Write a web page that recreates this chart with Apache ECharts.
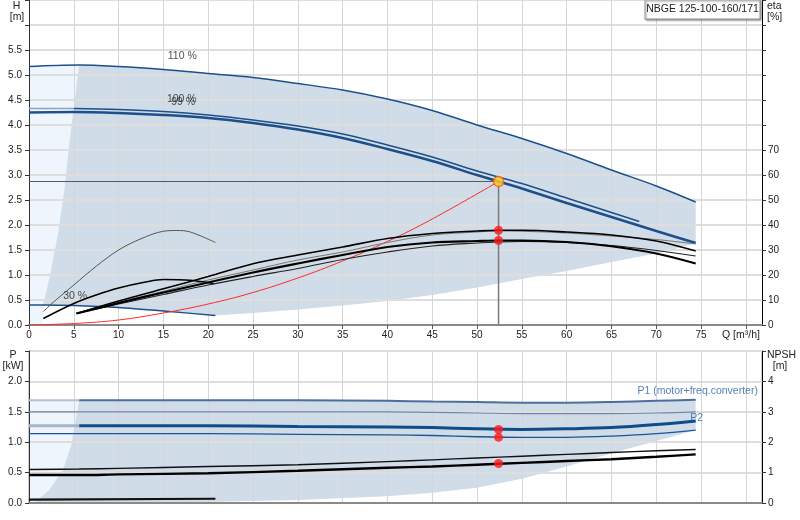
<!DOCTYPE html>
<html><head><meta charset="utf-8">
<script src="https://cdn.jsdelivr.net/npm/echarts@6/dist/echarts.min.js"></script>
<style>html,body{margin:0;padding:0;background:#fff}#c{width:800px;height:520px}</style>
</head><body><div id="c"></div><script>
// ---------- DATA ----------
const title = 'NBGE 125-100-160/171';
// Head curves H [m] vs Q [m3/h]
const q110 = [0,5.6,10,15,20,25,30,35,40,45,50,55,60,65,70,74.4];
const h110 = [5.17,5.2,5.17,5.11,5.03,4.95,4.83,4.70,4.52,4.29,4.0,3.73,3.43,3.1,2.78,2.46];
const q100 = [0,5,10,15,20,25,30,35,40,45,50,52.4,55,60,65,68.1];
const h100 = [4.33,4.33,4.31,4.27,4.2,4.1,3.98,3.82,3.6,3.36,3.08,2.96,2.83,2.54,2.25,2.07];
const q99 = [0,5,10,15,20,25,30,35,40,45,50,52.4,55,60,65,70,74.4];
const h99 = [4.25,4.26,4.24,4.2,4.14,4.04,3.91,3.74,3.52,3.28,3.0,2.87,2.73,2.44,2.16,1.88,1.64];
const q30 = [0,1.57,5,10,15,20.8];
const h30 = [0.40,0.40,0.39,0.35,0.28,0.19];
// System curve
const qSys = [0,5,10,15,20,25,30,35,40,45,52.4];
const hSys = [0,0.03,0.1,0.24,0.42,0.65,0.94,1.28,1.67,2.12,2.87];
// Efficiency curves eta [%]
const qEta = [5.3,10,15,20,25,30,35,40,45,50,52.4,55,60,65,70,74.4];
const eta1 = [4.6,9.6,14.5,19.4,24.5,28,31.2,34.6,36.6,37.6,37.9,37.9,37.2,36,33.6,29.6];
const eta2 = [4.6,9,13.5,18,22,26,29.2,33,36,37.2,37.6,37.5,36.8,35.6,34.2,32.4];
const eta3 = [4.6,8.8,13,17,21,24.6,28,31.2,33,33.6,33.8,33.8,33.2,31.5,28.6,24.6];
const eta4 = [4.6,8.4,12.2,16,19.4,22.6,26.2,29.2,31.6,32.8,33.2,33.4,33,31.8,29.8,27.6];
const qEta5 = [1.6,3,5,7.5,10,12.5,15,16.5,18,20.8];
const eta5 = [5.4,10,16,23.5,30,34.5,37.5,37.8,37.2,33];
const qEta6 = [1.6,5,7.5,10,13,15,18,20.6];
const eta6 = [2.6,8.6,12,14.8,17.2,18.2,17.9,16.6];
// Operating point
const dutyQ = 52.4, dutyH = 2.87;
const dutyEta = [37.9, 33.8];
// Working-range boundaries (top chart)
const qLeftBound = [1.57,2.31,3.24,3.98,4.54,5.1,5.6];
const hLeftBound = [0.40,0.96,1.83,2.76,3.70,4.50,5.2];
const qLowBound = [20.8,25,30,35,40,45,50,55,60,65,70,74.4];
const hLowBound = [0.19,0.24,0.31,0.39,0.48,0.6,0.75,0.92,1.08,1.26,1.43,1.63];
// Curve labels
const curveLabelText = ['110 %','100 %','99 %','30 %'];
const curveLabelQ = [17.1,17.05,17.2,5.15];
const curveLabelH = [5.37,4.51,4.45,0.57];
// Power curves P [kW]
const qP = [0,5.6,10,20,30,40,45,50,55,60,65,70,74.4];
const pTop = [1.69,1.69,1.69,1.69,1.69,1.68,1.67,1.66,1.65,1.65,1.66,1.68,1.70];
const p15 = [1.5,1.5,1.5,1.5,1.5,1.5,1.49,1.48,1.47,1.47,1.47,1.48,1.5];
const pThick = [1.27,1.27,1.27,1.27,1.26,1.25,1.24,1.22,1.21,1.22,1.24,1.29,1.35];
const pThin = [1.14,1.14,1.14,1.14,1.13,1.12,1.11,1.09,1.08,1.08,1.10,1.14,1.20];
const pBlk1 = [0.55,0.56,0.57,0.6,0.63,0.68,0.71,0.74,0.77,0.8,0.83,0.86,0.88];
const pBlk2 = [0.46,0.46,0.47,0.49,0.53,0.58,0.6,0.63,0.66,0.69,0.72,0.76,0.8];
const qPLow30 = [0,20.8];
const pLow30 = [0.055,0.07];
const dutyP = [1.21,1.08,0.65];
// Working-range boundaries (bottom chart)
const qLeftP = [0.5,0.8,2.3,3.8,4.7,5.1,5.6];
const pLeftP = [0,0.03,0.22,0.55,0.94,1.27,1.69];
const qLowP = [20.8,30,40,45,50,55,60,65,70,74.4];
const pLowP = [0.02,0.05,0.11,0.17,0.25,0.4,0.6,0.82,1.02,1.2];
const powerLabelText = ['P1 (motor+freq.converter)','P2'];
const powerLabelQ = [67.9,73.8];
const powerLabelP = [1.84,1.39];

// ---------- helpers ----------
const zip = (a,b) => a.map((v,i)=>[v,b[i]]);
const FONT = 'Liberation Sans, Arial, sans-serif';
const FS = 10;
const C_MAIN = '#d0dce7', C_LIGHT = '#eef5fd', C_BLUE = '#1d4f8c';

function poly(xi, yi, pts, color){
  return {type:'custom', xAxisIndex:xi, yAxisIndex:yi, z:0, silent:true, clip:false,
    data:[[pts[0][0],pts[0][1]]],
    renderItem:(params, api)=>({type:'polygon', shape:{points: pts.map(p=>api.coord(p))}, style:{fill:color}})};
}
function line(xi, yi, data, color, width, z, smooth){
  return {type:'line', xAxisIndex:xi, yAxisIndex:yi, data, showSymbol:false, symbol:'none', silent:true,
    smooth: smooth===undefined?0.35:smooth, z: z||3, lineStyle:{color, width}};
}
function labels(xi, yi, qs, vs, texts, pos, color){
  return {type:'scatter', xAxisIndex:xi, yAxisIndex:yi, symbolSize:0, silent:true, z:8,
    data: qs.map((q,i)=>({value:[q,vs[i]], label:{show:true, formatter:texts[i]}})),
    label:{show:true, position:pos, distance:0, color, fontSize:FS+0.5, fontFamily:FONT}};
}

// polygons (top)
const mainTop = [].concat(
  zip(q110,h110).slice(1),
  zip(qLowBound,hLowBound).reverse(),
  zip(q30,h30).slice(1).reverse().slice(1),
  zip(qLeftBound,hLeftBound)
);
const lightTop = [[0,0],[0,h110[0]]].concat(zip(qLeftBound,hLeftBound).reverse(), [[qLeftBound[0],0]]);
// polygons (bottom)
const mainBot = [].concat(
  zip(qP,pTop).slice(1),
  zip(qLowP,pLowP).reverse(),
  [[10,0]],
  zip(qLeftP,pLeftP)
);
const lightBot = [[0,0],[0,pTop[0]]].concat(zip(qLeftP,pLeftP).reverse());

const axisFont = {color:'#222', fontSize:FS, fontFamily:FONT};
const tf = '10.5px ' + FONT;

const option = {
  animation:false,
  backgroundColor:'#fff',
  grid:[
    {left:29, right:38, top:0, height:325, containLabel:false, outerBoundsMode:'none'},
    {left:29, right:38, top:351, height:152, containLabel:false, outerBoundsMode:'none', show:true, borderColor:'#999', borderWidth:1, backgroundColor:'transparent'}
  ],
  xAxis:[
    {gridIndex:0, type:'value', min:0, max:81.8, interval:5, z:1,
     axisLine:{show:true, onZero:false, lineStyle:{color:'#8a8a8a', width:2}},
     axisTick:{show:true, length:4, lineStyle:{color:'#555'}},
     axisLabel:Object.assign({margin:5, showMaxLabel:false, formatter:v=> (v%5===0 && v<=75)? String(v):''}, axisFont),
     splitLine:{show:true, lineStyle:{color:'#d6d6d6', width:1}}},
    {gridIndex:1, type:'value', min:0, max:81.8, interval:5, z:1,
     axisLine:{show:true, onZero:false, lineStyle:{color:'#8a8a8a', width:2}},
     axisTick:{show:false}, axisLabel:{show:false},
     splitLine:{show:true, lineStyle:{color:'#d6d6d6', width:1}}}
  ],
  yAxis:[
    {gridIndex:0, type:'value', position:'left', min:0, max:6.5, interval:0.5, z:1,
     axisLine:{show:true, onZero:false, lineStyle:{color:'#333', width:1}},
     axisTick:{show:true, length:4, lineStyle:{color:'#333'}},
     axisLabel:Object.assign({margin:7, formatter:v=> v<=5.51? v.toFixed(1):''}, axisFont),
     splitLine:{show:true, lineStyle:{color:'#dedede', width:2}}},
    {gridIndex:0, type:'value', position:'right', min:0, max:130, interval:10, z:1,
     axisLine:{show:true, onZero:false, lineStyle:{color:'#000', width:1}},
     axisTick:{show:true, length:4, lineStyle:{color:'#333'}},
     axisLabel:Object.assign({margin:6, formatter:v=> v<=70? String(v):''}, axisFont),
     splitLine:{show:false}},
    {gridIndex:1, type:'value', position:'left', min:0, max:2.5, interval:0.5, z:1,
     axisLine:{show:true, onZero:false, lineStyle:{color:'#333', width:1}},
     axisTick:{show:true, length:4, lineStyle:{color:'#333'}},
     axisLabel:Object.assign({margin:7, formatter:v=> v<=2.01? v.toFixed(1):''}, axisFont),
     splitLine:{show:true, lineStyle:{color:'#dedede', width:2}}},
    {gridIndex:1, type:'value', position:'right', min:0, max:5, interval:1, z:1,
     axisLine:{show:true, onZero:false, lineStyle:{color:'#000', width:1}},
     axisTick:{show:true, length:4, lineStyle:{color:'#333'}},
     axisLabel:Object.assign({margin:6, formatter:v=> v<=4? String(v):''}, axisFont),
     splitLine:{show:false}}
  ],
  series:[
    // regions
    poly(0,0,lightTop,C_LIGHT),
    poly(0,0,mainTop,C_MAIN),
    poly(1,2,lightBot,C_LIGHT),
    poly(1,2,mainBot,C_MAIN),
    // head curves
    line(0,0,zip(q110,h110),C_BLUE,1.5,4),
    line(0,0,zip(q100,h100).slice(0,2),'#8fa3c0',1.5,4),
    line(0,0,zip(q100,h100).slice(1),C_BLUE,1.5,4),
    line(0,0,zip(q99,h99),C_BLUE,2.5,4),
    line(0,0,zip(q30,h30),C_BLUE,1.3,4,0.2),
    // system curve
    line(0,0,zip(qSys,hSys),'#ff2a2a',1,5,0.4),
    // duty lines
    line(0,0,[[0,dutyH],[dutyQ,dutyH]],'#5a5a5a',1,3,false),
    line(0,0,[[dutyQ,dutyH],[dutyQ,0]],'#7a7a7a',1.5,3,false),
    // efficiency curves
    line(0,1,zip(qEta,eta2),'#777',1,5),
    line(0,1,zip(qEta,eta4),'#222',1.2,5),
    line(0,1,zip(qEta,eta1),'#000',1.6,6),
    line(0,1,zip(qEta,eta3),'#000',2.2,6),
    line(0,1,zip(qEta5,eta5),'#555',1,5),
    line(0,1,zip(qEta6,eta6),'#000',1.5,5),
    // duty points
    {type:'scatter', xAxisIndex:0, yAxisIndex:1, symbolSize:9, z:9, silent:true,
     itemStyle:{color:'#ff1a1a'}, data: dutyEta.map(e=>[dutyQ,e])},
    {type:'scatter', xAxisIndex:0, yAxisIndex:0, symbolSize:10, z:10, silent:true,
     itemStyle:{color:'#ffd21f', borderColor:'#ff5a1a', borderWidth:1.5}, data:[[dutyQ,dutyH]]},
    labels(0,0,curveLabelQ,curveLabelH,curveLabelText,'inside','#222'),
    // power curves
    line(1,2,zip(qP,pTop).slice(0,2),'#b3c1d3',2,4,false),
    line(1,2,zip(qP,pTop).slice(1),'#4d6d9b',2,4),
    line(1,2,zip(qP,p15),'#6f88ab',1.2,4),
    line(1,2,zip(qP,pThick).slice(0,2),'#a5b5ca',3,4,false),
    line(1,2,zip(qP,pThick).slice(1),'#0f4c8a',3,4),
    line(1,2,zip(qP,pThin),'#1a5596',1.3,4),
    line(1,2,zip(qP,pBlk1),'#111',1.4,5),
    line(1,2,zip(qP,pBlk2),'#000',2.4,5),
    line(1,2,zip(qPLow30,pLow30),'#111',2.2,5,false),
    {type:'scatter', xAxisIndex:1, yAxisIndex:2, symbolSize:9, z:9, silent:true,
     itemStyle:{color:'#ff1a1a'}, data: dutyP.map(p=>[dutyQ,p])},
    labels(1,2,powerLabelQ,powerLabelP,powerLabelText,'right','#2a62a6')
  ],
  graphic:[
    {type:'rect', x:645, y:0, z:100, shape:{width:115, height:19},
     style:{fill:'#fff', stroke:'#9a9a9a', lineWidth:1, shadowBlur:2, shadowOffsetX:1, shadowOffsetY:1, shadowColor:'rgba(0,0,0,0.45)'}},
    {type:'text', x:702.5, y:4, z:101, style:{text:title, font:tf, fill:'#222', align:'center', verticalAlign:'top'}},
    {type:'text', x:16.5, y:1, z:101, style:{text:'H', font:tf, fill:'#222', align:'center', verticalAlign:'top'}},
    {type:'text', x:17, y:12, z:101, style:{text:'[m]', font:tf, fill:'#222', align:'center', verticalAlign:'top'}},
    {type:'text', x:767, y:1, z:101, style:{text:'eta', font:tf, fill:'#222', align:'left', verticalAlign:'top'}},
    {type:'text', x:767, y:12, z:101, style:{text:'[%]', font:tf, fill:'#222', align:'left', verticalAlign:'top'}},
    {type:'text', x:722, y:330, z:101, style:{text:'Q [m³/h]', font:tf, fill:'#222', align:'left', verticalAlign:'top'}},
    {type:'text', x:13, y:350, z:101, style:{text:'P', font:tf, fill:'#222', align:'center', verticalAlign:'top'}},
    {type:'text', x:13, y:361, z:101, style:{text:'[kW]', font:tf, fill:'#222', align:'center', verticalAlign:'top'}},
    {type:'text', x:767, y:350, z:101, style:{text:'NPSH', font:tf, fill:'#222', align:'left', verticalAlign:'top'}},
    {type:'text', x:780, y:361, z:101, style:{text:'[m]', font:tf, fill:'#222', align:'center', verticalAlign:'top'}}
  ]
};
const chart = echarts.init(document.getElementById('c'), null, {renderer:'canvas'});
chart.setOption(option);
</script></body></html>
